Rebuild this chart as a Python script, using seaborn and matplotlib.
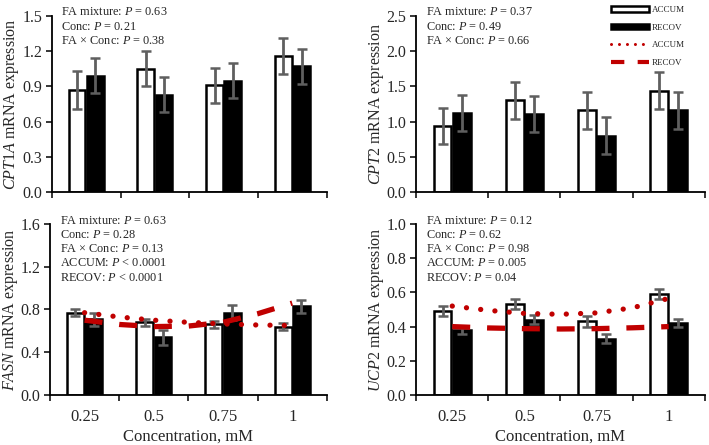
import numpy as np
import pandas as pd
import matplotlib
matplotlib.use("Agg")
import matplotlib.pyplot as plt
import seaborn as sns
from matplotlib.patches import Patch
from matplotlib.lines import Line2D

# categories
conc = ["0.25", "0.5", "0.75", "1"]
groups = ["ACCUM", "RECOV"]

# bar means and SE
cpt1a_accum = [0.87, 1.05, 0.91, 1.16]
cpt1a_accum_se = [0.16, 0.15, 0.15, 0.15]
cpt1a_recov = [0.99, 0.83, 0.95, 1.07]
cpt1a_recov_se = [0.15, 0.15, 0.15, 0.15]

cpt2_accum = [0.94, 1.30, 1.16, 1.44]
cpt2_accum_se = [0.26, 0.26, 0.26, 0.26]
cpt2_recov = [1.12, 1.11, 0.80, 1.16]
cpt2_recov_se = [0.26, 0.26, 0.26, 0.26]

fasn_accum = [0.77, 0.68, 0.66, 0.64]
fasn_accum_se = [0.03, 0.03, 0.03, 0.03]
fasn_recov = [0.71, 0.54, 0.77, 0.83]
fasn_recov_se = [0.06, 0.07, 0.07, 0.06]

ucp2_accum = [0.49, 0.53, 0.43, 0.59]
ucp2_accum_se = [0.03, 0.03, 0.03, 0.03]
ucp2_recov = [0.38, 0.44, 0.33, 0.42]
ucp2_recov_se = [0.025, 0.025, 0.025, 0.025]

# fitted trend curves, read at category centres and midpoints (mM)
trend_conc = [0.25, 0.375, 0.5, 0.625, 0.75, 0.875, 1.0]
fasn_accum_trend = [0.77, 0.73, 0.70, 0.68, 0.665, 0.655, 0.65]
fasn_recov_trend = [0.70, 0.66, 0.64, 0.645, 0.68, 0.76, 0.86]
ucp2_accum_trend = [0.52, 0.495, 0.477, 0.472, 0.48, 0.51, 0.565]
ucp2_recov_trend = [0.40, 0.392, 0.388, 0.386, 0.388, 0.393, 0.40]

# annotation texts
cpt1a_stats = ["FA mixture: $P$ = 0.63", "Conc: $P$ = 0.21", "FA × Conc: $P$ = 0.38"]
cpt2_stats = ["FA mixture: $P$ = 0.37", "Conc: $P$ = 0.49", "FA × Conc: $P$ = 0.66"]
fasn_stats = ["FA mixture: $P$ = 0.63", "Conc: $P$ = 0.28", "FA × Conc: $P$ = 0.13",
              "ACCUM: $P$ < 0.0001", "RECOV: $P$ < 0.0001"]
ucp2_stats = ["FA mixture: $P$ = 0.12", "Conc: $P$ = 0.62", "FA × Conc: $P$ = 0.98",
              "ACCUM: $P$ = 0.005", "RECOV: $P$ = 0.04"]

sns.set_style("ticks")
plt.rcParams["font.family"] = ["Liberation Serif", "DejaVu Serif"]
plt.rcParams["mathtext.fontset"] = "custom"
plt.rcParams["mathtext.rm"] = "Liberation Serif"
plt.rcParams["mathtext.it"] = "Liberation Serif:italic"

RED = "#C00000"
ERR = "#5f5f5f"


def make_df(accum, accum_se, recov, recov_se):
    return pd.DataFrame({
        "conc": conc * 2,
        "group": ["ACCUM"] * 4 + ["RECOV"] * 4,
        "value": accum + recov,
        "se": accum_se + recov_se,
    })


def draw_panel(ax, df, gene, yticks, stats, show_x, trends=None):
    sns.barplot(data=df, x="conc", y="value", hue="group", order=conc,
                hue_order=groups, palette={"ACCUM": "white", "RECOV": "black"},
                edgecolor="black", linewidth=1.8, width=0.53, gap=0.08,
                errorbar=None, legend=False, ax=ax, zorder=2)
    for cont, g in zip(ax.containers, groups):
        sub = df[df["group"] == g]
        xs = [b.get_x() + b.get_width() / 2 for b in cont]
        ax.errorbar(xs, sub["value"].values, yerr=sub["se"].values, fmt="none",
                    ecolor=ERR, elinewidth=2, capsize=3.5, capthick=1.8, zorder=3)
    if trends is not None:
        pos = [(c - 0.25) / 0.25 for c in trend_conc]
        ax.plot(pos, trends[0], color=RED, lw=3.8, linestyle=(0, (0.01, 2.7)),
                dash_capstyle="round", zorder=5)
        ax.plot(pos, trends[1], color=RED, lw=3.8, linestyle=(0, (3.4, 3.2)),
                dash_capstyle="butt", zorder=5)

    ax.set_xlim(-0.5, 3.5)
    ax.set_ylim(yticks[0], yticks[-1])
    ax.set_yticks(yticks)
    ax.set_yticklabels([f"{t:.1f}" for t in yticks], fontsize=11.5)
    ax.set_xticks([-0.5, 0.5, 1.5, 2.5, 3.5])
    ax.set_xticklabels([])
    ax.set_xticks([0, 1, 2, 3], minor=True)
    if show_x:
        ax.set_xticklabels(conc, minor=True, fontsize=12)
        ax.set_xlabel("Concentration, mM", fontsize=12, labelpad=3)
    else:
        ax.set_xlabel("")
    ax.tick_params(axis="x", which="minor", length=0, pad=10)
    ax.tick_params(axis="both", which="major", length=4, width=1.3, direction="out")
    ax.tick_params(axis="y", pad=3)
    ax.set_ylabel(f"$\\mathit{{{gene}}}$ mRNA expression", fontsize=11.5, labelpad=0.5)
    sns.despine(ax=ax)
    for s in ["left", "bottom"]:
        ax.spines[s].set_linewidth(1.3)
        ax.spines[s].set_color("black")
    ax.text(0.035, 1.055, "\n".join(stats), transform=ax.transAxes, va="top",
            ha="left", fontsize=8.8, linespacing=1.25)


fig = plt.figure(figsize=(7.09, 4.45), dpi=100)
ax1 = fig.add_axes([0.073, 0.5685, 0.388, 0.3955])
ax2 = fig.add_axes([0.587, 0.5685, 0.407, 0.3955])
ax3 = fig.add_axes([0.0705, 0.1124, 0.3905, 0.3842])
ax4 = fig.add_axes([0.587, 0.1124, 0.407, 0.3842])

draw_panel(ax1, make_df(cpt1a_accum, cpt1a_accum_se, cpt1a_recov, cpt1a_recov_se),
           "CPT1A", np.round(np.arange(0, 1.51, 0.3), 1), cpt1a_stats, False)
draw_panel(ax2, make_df(cpt2_accum, cpt2_accum_se, cpt2_recov, cpt2_recov_se),
           "CPT2", np.round(np.arange(0, 2.51, 0.5), 1), cpt2_stats, False)
draw_panel(ax3, make_df(fasn_accum, fasn_accum_se, fasn_recov, fasn_recov_se),
           "FASN", np.round(np.arange(0, 1.61, 0.4), 1), fasn_stats, True,
           trends=(fasn_accum_trend, fasn_recov_trend))
draw_panel(ax4, make_df(ucp2_accum, ucp2_accum_se, ucp2_recov, ucp2_recov_se),
           "UCP2", np.round(np.arange(0, 1.01, 0.2), 1), ucp2_stats, True,
           trends=(ucp2_accum_trend, ucp2_recov_trend))

handles = [
    Patch(facecolor="white", edgecolor="black", linewidth=1.8, label="ACCUM"),
    Patch(facecolor="black", edgecolor="black", linewidth=1.8, label="RECOV"),
    Line2D([], [], color=RED, lw=2.2, linestyle=(0, (0.01, 2.6)),
           dash_capstyle="round", label="ACCUM"),
    Line2D([], [], color=RED, lw=3.0, linestyle=(0, (3.2, 3.2)), label="RECOV"),
]
fig.legend(handles=handles, loc="upper left", bbox_to_anchor=(0.862, 0.986),
           frameon=False, fontsize=6.5, handlelength=4.2, handleheight=0.55,
           handletextpad=0.35, labelspacing=1.05, borderpad=0, borderaxespad=0)

fig.savefig("out.png", dpi=100)
